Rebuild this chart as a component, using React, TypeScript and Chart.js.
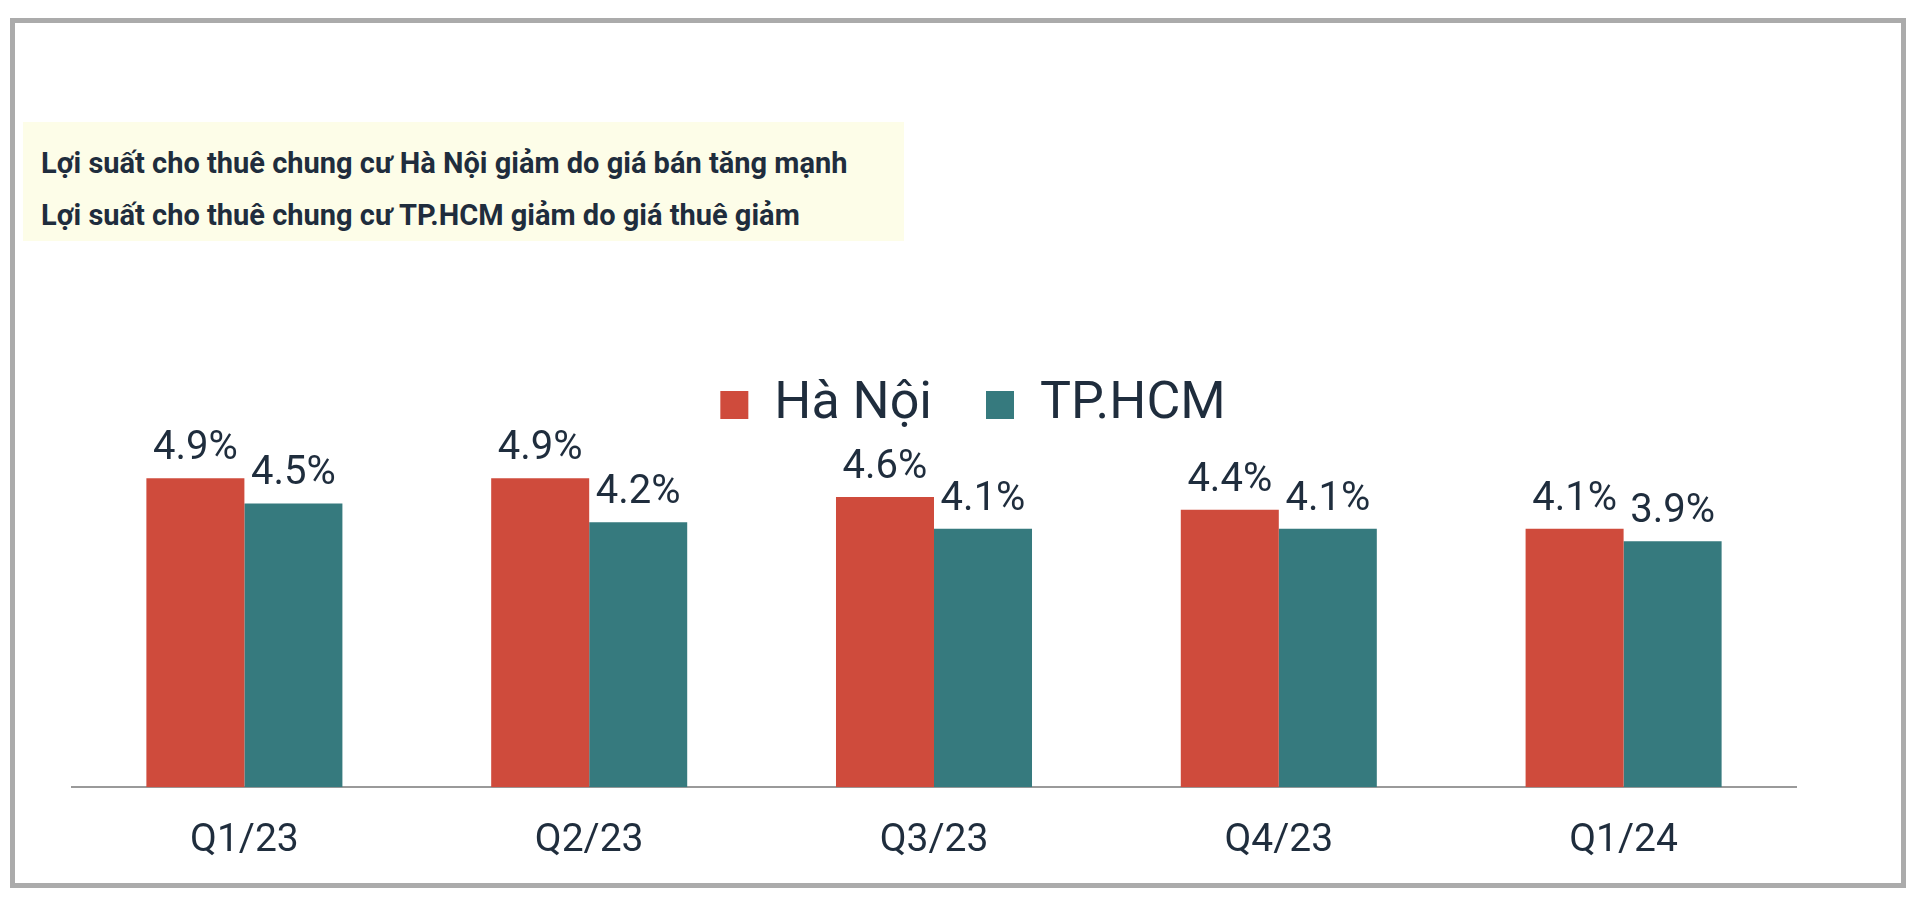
import React, { useEffect, useRef } from "react";
import { Chart, registerables } from "chart.js";

Chart.register(...registerables);

const categories = ["Q1/23", "Q2/23", "Q3/23", "Q4/23", "Q1/24"];
const seriesNames = ["Hà Nội", "TP.HCM"];
const haNoiValues = [4.9, 4.9, 4.6, 4.4, 4.1];
const hcmValues = [4.5, 4.2, 4.1, 4.1, 3.9];
const titleLines = [
  "Lợi suất cho thuê chung cư Hà Nội giảm do giá bán tăng mạnh",
  "Lợi suất cho thuê chung cư TP.HCM giảm do giá thuê giảm",
];

const RED = "#CF4B3C";
const TEAL = "#367A7E";
const TEXT = "#1f2d3d";

const valueLabels = {
  id: "valueLabels",
  afterDatasetsDraw(chart: any) {
    const ctx = chart.ctx;
    ctx.save();
    ctx.font = "40px Roboto";
    ctx.fillStyle = TEXT;
    ctx.textAlign = "center";
    ctx.textBaseline = "middle";
    chart.data.datasets.forEach((ds: any, di: number) => {
      const meta = chart.getDatasetMeta(di);
      meta.data.forEach((bar: any, i: number) => {
        const v = ds.data[i] as number;
        ctx.fillText(v.toFixed(1) + "%", bar.x, bar.y - 29);
      });
    });
    ctx.restore();
  },
};

const legendShift = {
  id: "legendShift",
  afterLayout(chart: any) {
    const lg = chart.legend;
    if (lg) {
      lg.left += 39;
      lg.right += 39;
    }
  },
};

export default function App() {
  const canvasRef = useRef<HTMLCanvasElement | null>(null);

  useEffect(() => {
    let chart: Chart | null = null;
    let cancelled = false;
    const make = () => {
      if (cancelled || !canvasRef.current) return;
      chart = new Chart(canvasRef.current, {
        type: "bar",
        data: {
          labels: categories,
          datasets: [
            {
              label: seriesNames[0],
              data: haNoiValues,
              backgroundColor: RED,
              borderWidth: 0,
              categoryPercentage: 0.5685,
              barPercentage: 1.0,
            },
            {
              label: seriesNames[1],
              data: hcmValues,
              backgroundColor: TEAL,
              borderWidth: 0,
              categoryPercentage: 0.5685,
              barPercentage: 1.0,
            },
          ],
        },
        options: {
          responsive: false,
          animation: false,
          layout: { padding: { left: 72, right: 124, top: 325, bottom: 1 } },
          plugins: {
            legend: {
              position: "top",
              labels: {
                font: { family: "Roboto", size: 52 },
                color: TEXT,
                boxWidth: 28,
                boxHeight: 28,
                padding: 54,
              },
            },
            tooltip: { enabled: false },
            title: { display: false },
          },
          scales: {
            x: {
              grid: { display: false, drawTicks: false },
              border: { display: true, color: "#9a9a9a", width: 2 },
              ticks: {
                font: { family: "Roboto", size: 39 },
                color: TEXT,
                padding: 31,
              },
            },
            y: { display: false, min: 0, max: 5.49 },
          },
        },
        plugins: [valueLabels, legendShift],
      });
    };
    const fontsAny: any = (document as any).fonts;
    if (fontsAny && fontsAny.load) {
      Promise.all([
        fontsAny.load("40px Roboto"),
        fontsAny.load("bold 29px Roboto"),
      ])
        .catch(() => null)
        .then(make);
    } else {
      make();
    }
    return () => {
      cancelled = true;
      if (chart) chart.destroy();
    };
  }, []);

  const lineStyle: React.CSSProperties = {
    position: "absolute",
    left: 41,
    fontFamily: "Roboto, 'Noto Sans', sans-serif",
    fontWeight: 700,
    fontSize: 29,
    lineHeight: "36px",
    color: TEXT,
    whiteSpace: "nowrap",
  };

  return (
    <div
      style={{
        position: "absolute",
        left: 0,
        top: 0,
        width: 1920,
        height: 897,
        background: "#ffffff",
        overflow: "hidden",
      }}
    >
      <div
        style={{
          position: "absolute",
          left: 10,
          top: 18,
          width: 1896,
          height: 870,
          boxSizing: "border-box",
          border: "5px solid #ababab",
        }}
      />
      <div
        style={{
          position: "absolute",
          left: 23,
          top: 122,
          width: 881,
          height: 119,
          background: "#fdfde8",
        }}
      />
      <div style={{ ...lineStyle, top: 145 }}>{titleLines[0]}</div>
      <div style={{ ...lineStyle, top: 197 }}>{titleLines[1]}</div>
      <canvas
        ref={canvasRef}
        width={1920}
        height={897}
        style={{ position: "absolute", left: 0, top: 0, width: 1920, height: 897 }}
      />
    </div>
  );
}
